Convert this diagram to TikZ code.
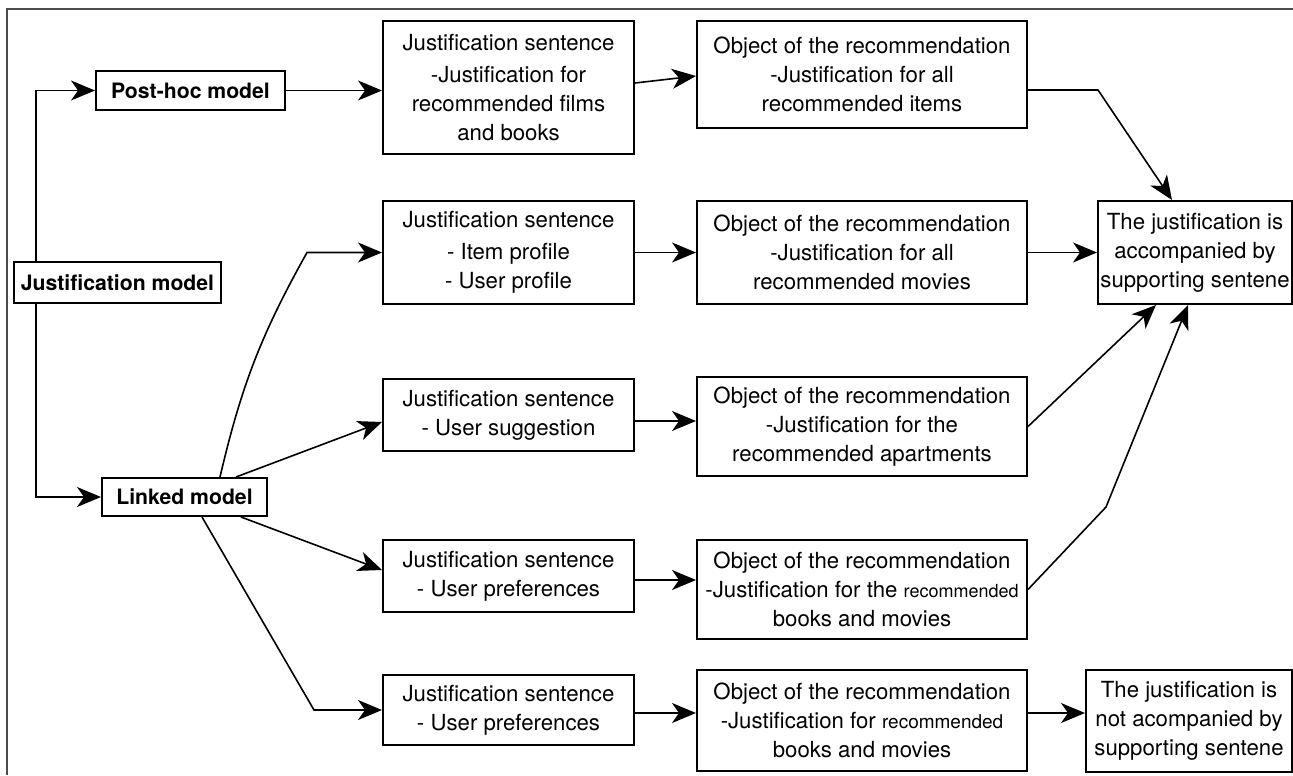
\documentclass[tikz,border=0pt]{standalone}
\usepackage{fontspec}
\setmainfont{TeX Gyre Heros}
\usetikzlibrary{arrows.meta}

\begin{document}
\begin{tikzpicture}[x=0.5pt, y=-0.5pt, line width=0.8pt, >={Stealth[length=12pt, width=10pt, inset=3.5pt]}]
		\tikzstyle{every node}=[draw, line width=1pt, inner sep=2pt, align=center, font=\fontsize{11.1}{14.5}\selectfont]
		\tikzstyle{modelbox}=[font=\fontsize{10.6}{14}\selectfont\bfseries]
		\tikzstyle{sentbox}=[minimum width=125.5pt]
		\tikzstyle{objbox}=[minimum width=165pt]
		\tikzstyle{resbox}=[inner sep=1pt]
		\useasboundingbox (0,0) rectangle (1293,775);
		\draw [line width=1pt, black!70] (7,775) -- (7,9) -- (1293,9);
		\node [modelbox, minimum width=103.5pt, minimum height=20.5pt] (jm) at (117.5, 282.5) {Justification model};
		\node [modelbox, minimum width=94.5pt, minimum height=19.5pt] (ph) at (190.5, 90.5) {Post-hoc model};
		\node [modelbox, minimum width=82.5pt, minimum height=19pt] (lm) at (184.5, 497) {Linked model};
		\node [sentbox, minimum height=66.5pt] (js1) at (508.5, 87.5) {Justification sentence\\[1.5pt] -Justification for\\ recommended films\\ and books};
		\node [sentbox, minimum height=51.5pt] (js2) at (508.5, 252.5) {Justification sentence\\[1.5pt] - Item profile\\ - User profile};
		\node [sentbox, minimum height=36pt] (js3) at (508.5, 415) {Justification sentence\\ - User suggestion};
		\node [sentbox, minimum height=36pt] (js4) at (508.5, 576) {Justification sentence\\ - User preferences};
		\node [sentbox, minimum height=35pt] (js5) at (508.5, 710) {Justification sentence\\ - User preferences};
		\node [objbox, minimum height=53.5pt] (or1) at (862, 74.5) {Object of the recommendation\\ -Justification for all\\ recommended items};
		\node [objbox, minimum height=51.5pt] (or2) at (862, 252.5) {Object of the recommendation\\ -Justification for all\\ recommended movies};
		\node [objbox, minimum height=49.5pt] (or3) at (862, 426.5) {Object of the recommendation\\ -Justification for the\\ recommended apartments};
		\node [objbox, minimum height=49.5pt] (or4) at (862, 589.5) {Object of the recommendation\\ -Justification for the {\fontsize{9}{14}\selectfont recommended}\\ books and movies};
		\node [objbox, minimum height=50.5pt] (or5) at (862, 720.5) {Object of the recommendation\\ -Justification for {\fontsize{9.5}{14}\selectfont recommended}\\ books and movies};
		\node [resbox, minimum width=97pt, minimum height=51.5pt] (acc) at (1195, 252.5) {The justification is\\ accompanied by\\ supporting sentene};
		\node [resbox, minimum width=103pt, minimum height=51pt] (nacc) at (1189, 721) {The justification is\\ not acompanied by\\ supporting sentene};
		\coordinate (b1) at (1098, 90);
		\coordinate (b2) at (307, 252.5);
		\coordinate (b4) at (1106, 507);
		\coordinate (b5) at (314, 710);
		\draw [->] ([xshift=11.5pt]jm.north west) |- (ph);
		\draw [->] ([xshift=11.5pt]jm.south west) |- (lm);
		\draw [->] (ph.east) -- (ph.east -| js1.west);
		\draw [->] ([yshift=2.25pt]js1.east) -- ([yshift=-0.75pt]or1.west);
		\draw [->] ([yshift=-7.75pt]or1.east) -- (b1) -- ([xshift=-11.5pt]acc.north);
		\draw [->] ([xshift=17.75pt]lm.north) to[bend left=8] (b2) -- (js2);
		\draw [->] ([xshift=25.75pt]lm.north) -- ([yshift=-3.5pt]js3.west);
		\draw [->] ([xshift=28.25pt]lm.south) -- ([yshift=3pt]js4.west);
		\draw [->] ([xshift=8.75pt]lm.south) -- (b5) -- (js5);
		\draw [->] (js2) -- (or2);
		\draw [->] ([yshift=-3pt]js3.east) -- ([yshift=2.75pt]or3.west);
		\draw [->] ([yshift=-2pt]js4.east) -- ([yshift=4.75pt]or4.west);
		\draw [->] ([yshift=-1.5pt]js5.east) -- ([yshift=3.75pt]or5.west);
		\draw [->] (or2) -- (acc);
		\draw [->] (or3.east) -- ([xshift=-19.5pt]acc.south);
		\draw [->] (or4.east) -- (b4) -- ([xshift=-3.5pt]acc.south);
		\draw [->] ([yshift=3.75pt]or5.east) -- ([yshift=4pt]nacc.west);
\end{tikzpicture}
\end{document}
